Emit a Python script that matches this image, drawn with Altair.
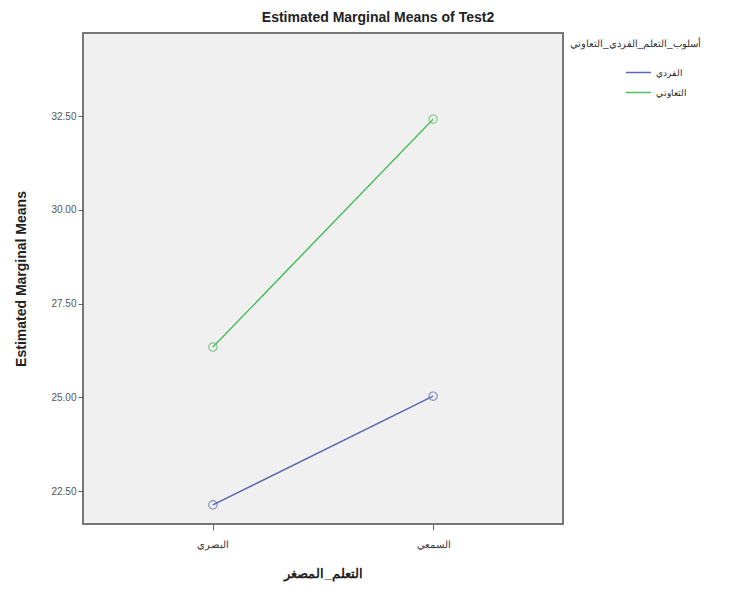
import altair as alt
import pandas as pd

categories = ["البصري", "السمعي"]
groups = ["الفردي", "التعاوني"]
values_fardi = [22.13, 25.03]
values_taawuni = [26.34, 32.42]

rows = []
for g, vals in zip(groups, [values_fardi, values_taawuni]):
    for c, v in zip(categories, vals):
        rows.append({"cat": c, "grp": g, "val": v})
df = pd.DataFrame(rows)

colors = ["#5a68b4", "#4fbd61"]

x = alt.X("cat:N", sort=categories, title="التعلم_المصغر",
          scale=alt.Scale(type="point", padding=0.59),
          axis=alt.Axis(labelAngle=0, domain=False, tickColor="#666", tickSize=6,
                        labelColor="#333", labelFontSize=10, titleFontSize=13,
                        titleFontWeight="bold", titleColor="#222", titlePadding=18,
                        labelPadding=9))
y = alt.Y("val:Q", title="Estimated Marginal Means",
          scale=alt.Scale(domain=[21.62, 34.72], nice=False, zero=False),
          axis=alt.Axis(values=[22.5, 25, 27.5, 30, 32.5], format=".2f", grid=False,
                        domain=False, tickColor="#666", tickSize=5, labelColor="#555",
                        labelFontSize=10, titleFontSize=14, titleFontWeight="bold",
                        titleColor="#222", titlePadding=22))
color = alt.Color("grp:N", sort=groups, scale=alt.Scale(domain=groups, range=colors),
                  legend=alt.Legend(title="أسلوب_التعلم_الفردي_التعاوني", orient="none",
                                    legendX=487, legendY=6, symbolType="stroke",
                                    symbolSize=625, symbolStrokeWidth=1.5,
                                    symbolOffset=55, titleFontSize=10,
                                    titleFontWeight="normal", titleColor="#333",
                                    labelFontSize=9, labelColor="#222",
                                    titlePadding=10, rowPadding=1))

base = alt.Chart(df)
lines = base.mark_line(strokeWidth=1.5).encode(x=x, y=y, color=color)
points = base.mark_point(shape="circle", filled=False, size=70, strokeWidth=1.2).encode(
    x=x, y=y, color=alt.Color("grp:N", sort=groups, scale=alt.Scale(domain=groups, range=colors), legend=None))

chart = alt.layer(lines, points).properties(
    width=480, height=491,
    autosize=alt.AutoSizeParams(type="none"),
    padding={"left": 75, "top": 25, "right": 171, "bottom": 64},
    background="white",
    title=alt.TitleParams("Estimated Marginal Means of Test2", fontSize=14, fontWeight="bold",
                          color="#222", dx=55, offset=8, font="Liberation Sans"),
).configure(font="Liberation Sans").configure_view(fill="#f0f0f0", stroke="#777", strokeWidth=2)

chart.save("out.html", embed_options={"renderer": "svg", "actions": False})
